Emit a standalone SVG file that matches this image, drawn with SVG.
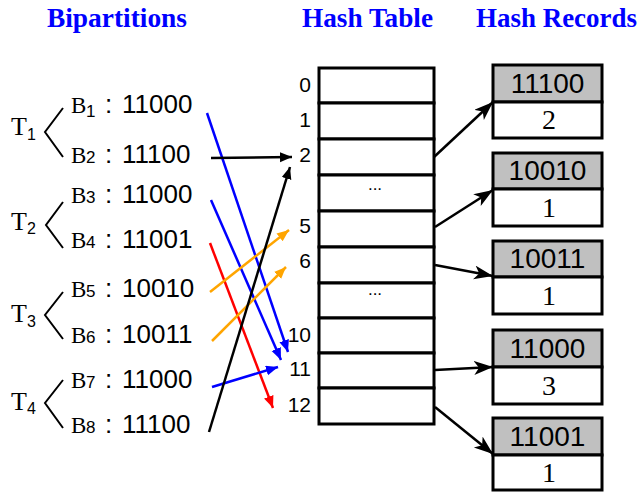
<svg xmlns="http://www.w3.org/2000/svg" width="640" height="492" viewBox="0 0 640 492">
<style>
.title{font-family:"Liberation Serif","Times New Roman",serif;font-weight:bold;font-size:27px;fill:#0000ff}
.tm{font-family:"Liberation Serif","Times New Roman",serif;fill:#000}
.ar{font-family:"Liberation Sans",Arial,sans-serif;fill:#000}
.T{font-size:26px}
.Ts{font-size:16px}
.B{font-size:23px}
.Bs{font-size:17px}
.val{font-size:26px}
.idx{font-size:21px;text-anchor:end}
.dots{font-size:17px;text-anchor:middle}
.cell{fill:#fff;stroke:#000;stroke-width:3}
.rk{fill:#c0c0c0;stroke:#000;stroke-width:3}
.rv{fill:#fff;stroke:#000;stroke-width:3}
.rkt{font-size:28px;text-anchor:middle}
.rvt{font-size:28px;text-anchor:middle}
.br{fill:none;stroke:#000;stroke-width:2}
.ln{fill:none;stroke-width:2.5}
</style>
<defs>
<marker id="mBlue" markerUnits="userSpaceOnUse" markerWidth="13" markerHeight="11" refX="12" refY="5" orient="auto"><path d="M0,0 L12,5 L0,10 z" fill="#0000ff"/></marker>
<marker id="mBlack" markerUnits="userSpaceOnUse" markerWidth="13" markerHeight="11" refX="12" refY="5" orient="auto"><path d="M0,0 L12,5 L0,10 z" fill="#000"/></marker>
<marker id="mRed" markerUnits="userSpaceOnUse" markerWidth="13" markerHeight="11" refX="12" refY="5" orient="auto"><path d="M0,0 L12,5 L0,10 z" fill="#ff0000"/></marker>
<marker id="mOrange" markerUnits="userSpaceOnUse" markerWidth="13" markerHeight="11" refX="12" refY="5" orient="auto"><path d="M0,0 L12,5 L0,10 z" fill="#ffa500"/></marker>
<marker id="mBig" markerUnits="userSpaceOnUse" markerWidth="20" markerHeight="16" refX="19" refY="7" orient="auto"><path d="M0,0 L19,7 L0,14 L5,7 z" fill="#000"/></marker>
</defs>

<g id="titles">
<text class="title" x="47" y="27" textLength="140" lengthAdjust="spacingAndGlyphs">Bipartitions</text>
<text class="title" x="302" y="27" textLength="131" lengthAdjust="spacingAndGlyphs">Hash Table</text>
<text class="title" x="476" y="27" textLength="161" lengthAdjust="spacingAndGlyphs">Hash Records</text>
</g>

<g id="T1">
<text class="tm T" x="11" y="135">T</text><text class="ar Ts" x="27" y="140">1</text>
<polyline class="br" points="63,108 45,132 63,157"/>
</g>
<g id="T2">
<text class="tm T" x="11" y="230">T</text><text class="ar Ts" x="27" y="234">2</text>
<polyline class="br" points="63,202 46,225 63,248"/>
</g>
<g id="T3">
<text class="tm T" x="11" y="322">T</text><text class="ar Ts" x="27" y="327">3</text>
<polyline class="br" points="63,292 45,315 63,339"/>
</g>
<g id="T4">
<text class="tm T" x="11" y="410">T</text><text class="ar Ts" x="27" y="414">4</text>
<polyline class="br" points="63,380 45,403 63,428"/>
</g>

<g id="B1"><text class="tm B" x="71" y="113">B</text><text class="ar Bs" x="86" y="117">1</text><text class="ar val" x="105" y="113">:</text><text class="ar val" x="122" y="113">11000</text></g>
<g id="B2"><text class="tm B" x="71" y="163">B</text><text class="ar Bs" x="86" y="163">2</text><text class="ar val" x="105" y="163">:</text><text class="ar val" x="122" y="163">11100</text></g>
<g id="B3"><text class="tm B" x="71" y="203">B</text><text class="ar Bs" x="86" y="203">3</text><text class="ar val" x="105" y="203">:</text><text class="ar val" x="122" y="203">11000</text></g>
<g id="B4"><text class="tm B" x="71" y="248">B</text><text class="ar Bs" x="86" y="248">4</text><text class="ar val" x="105" y="248">:</text><text class="ar val" x="122" y="248">11001</text></g>
<g id="B5"><text class="tm B" x="71" y="297">B</text><text class="ar Bs" x="86" y="297">5</text><text class="ar val" x="105" y="297">:</text><text class="ar val" x="122" y="297">10010</text></g>
<g id="B6"><text class="tm B" x="71" y="343">B</text><text class="ar Bs" x="86" y="343">6</text><text class="ar val" x="105" y="343">:</text><text class="ar val" x="122" y="343">10011</text></g>
<g id="B7"><text class="tm B" x="71" y="388">B</text><text class="ar Bs" x="86" y="388">7</text><text class="ar val" x="105" y="388">:</text><text class="ar val" x="122" y="388">11000</text></g>
<g id="B8"><text class="tm B" x="71" y="433">B</text><text class="ar Bs" x="86" y="433">8</text><text class="ar val" x="105" y="433">:</text><text class="ar val" x="122" y="433">11100</text></g>

<g id="hashtable">
<rect class="cell" x="319" y="68" width="115" height="35"/>
<rect class="cell" x="319" y="103" width="115" height="36"/>
<rect class="cell" x="319" y="139" width="115" height="36"/>
<rect class="cell" x="319" y="175" width="115" height="36"/>
<rect class="cell" x="319" y="211" width="115" height="36"/>
<rect class="cell" x="319" y="247" width="115" height="36"/>
<rect class="cell" x="319" y="283" width="115" height="35"/>
<rect class="cell" x="319" y="318" width="115" height="35"/>
<rect class="cell" x="319" y="353" width="115" height="35"/>
<rect class="cell" x="319" y="388" width="115" height="36"/>
<text class="ar dots" x="375" y="190">...</text>
<text class="ar dots" x="375" y="295">...</text>
<text class="ar idx" x="311" y="92">0</text>
<text class="ar idx" x="311" y="127">1</text>
<text class="ar idx" x="311" y="162">2</text>
<text class="ar idx" x="311" y="233">5</text>
<text class="ar idx" x="311" y="268">6</text>
<text class="ar idx" x="311" y="342">10</text>
<text class="ar idx" x="311" y="376">11</text>
<text class="ar idx" x="311" y="412">12</text>
</g>

<g id="R1"><rect class="rk" x="493" y="65" width="109" height="37"/><rect class="rv" x="493" y="102" width="109" height="36"/><text class="ar rkt" x="547.5" y="93">11100</text><text class="tm rvt" x="549" y="129">2</text></g>
<g id="R2"><rect class="rk" x="493" y="153" width="109" height="36"/><rect class="rv" x="493" y="189" width="109" height="37"/><text class="ar rkt" x="547.5" y="180">10010</text><text class="tm rvt" x="549" y="217">1</text></g>
<g id="R3"><rect class="rk" x="493" y="241" width="109" height="36"/><rect class="rv" x="493" y="277" width="109" height="37"/><text class="ar rkt" x="547.5" y="268">10011</text><text class="tm rvt" x="549" y="305">1</text></g>
<g id="R4"><rect class="rk" x="493" y="330" width="109" height="37"/><rect class="rv" x="493" y="367" width="109" height="37"/><text class="ar rkt" x="547.5" y="358">11000</text><text class="tm rvt" x="549" y="395">3</text></g>
<g id="R5"><rect class="rk" x="493" y="418" width="109" height="37"/><rect class="rv" x="493" y="455" width="109" height="35"/><text class="ar rkt" x="547.5" y="446">11001</text><text class="tm rvt" x="549" y="482">1</text></g>

<g id="connectors">
<line class="ln" x1="207" y1="113" x2="288" y2="352" stroke="#0000ff" marker-end="url(#mBlue)"/>
<line class="ln" x1="211" y1="158" x2="292" y2="157" stroke="#000" marker-end="url(#mBlack)"/>
<line class="ln" x1="211" y1="200" x2="281" y2="360" stroke="#0000ff" marker-end="url(#mBlue)"/>
<line class="ln" x1="210" y1="243" x2="273" y2="408" stroke="#ff0000" marker-end="url(#mRed)"/>
<line class="ln" x1="210" y1="292" x2="289" y2="230" stroke="#ffa500" marker-end="url(#mOrange)"/>
<line class="ln" x1="212" y1="341" x2="286" y2="267" stroke="#ffa500" marker-end="url(#mOrange)"/>
<line class="ln" x1="212" y1="387" x2="278" y2="367" stroke="#0000ff" marker-end="url(#mBlue)"/>
<line class="ln" x1="209" y1="432" x2="290" y2="167" stroke="#000" marker-end="url(#mBlack)"/>
<line class="ln" x1="434" y1="157" x2="493" y2="102" stroke="#000" marker-end="url(#mBig)"/>
<line class="ln" x1="435" y1="227" x2="493" y2="190" stroke="#000" marker-end="url(#mBig)"/>
<line class="ln" x1="435" y1="265" x2="493" y2="276" stroke="#000" marker-end="url(#mBig)"/>
<line class="ln" x1="435" y1="370" x2="493" y2="367" stroke="#000" marker-end="url(#mBig)"/>
<line class="ln" x1="435" y1="407" x2="493" y2="454" stroke="#000" marker-end="url(#mBig)"/>
</g>
</svg>
